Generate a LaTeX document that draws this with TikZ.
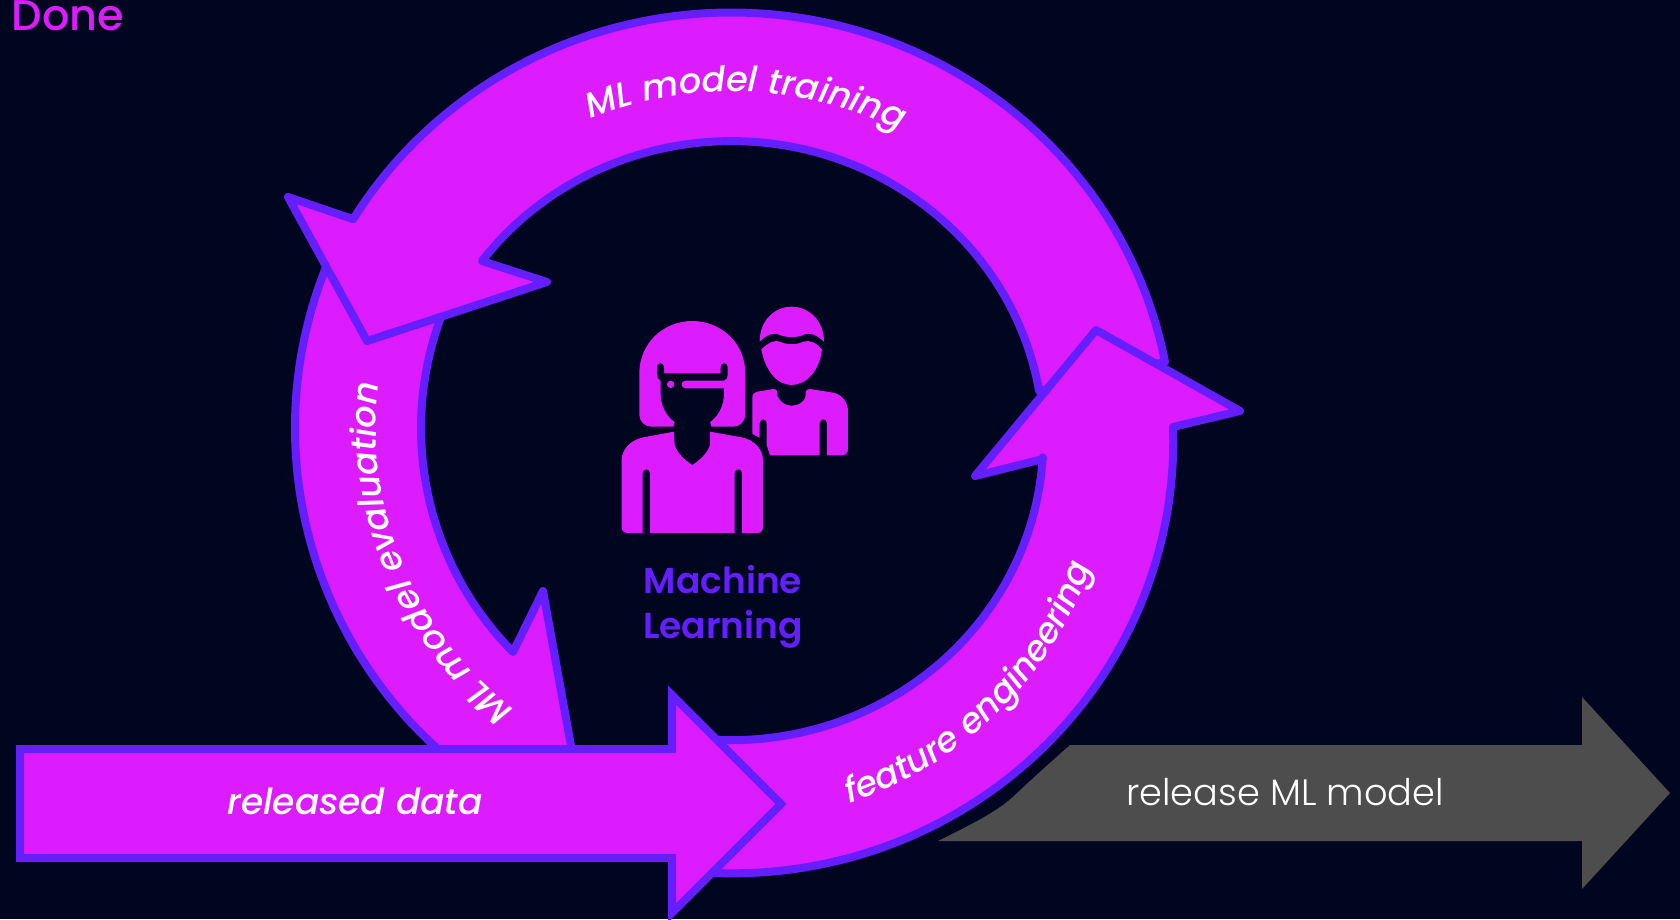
\documentclass[tikz,border=0pt]{standalone}
\usepackage{fontspec}
\usetikzlibrary{decorations.text}
\setmainfont{Poppins}
\newfontfamily\lightfont{Poppins Light}
\newfontfamily\mediumfont{Poppins Medium}
\newfontfamily\semifont{Poppins SemiBold}
\definecolor{page_bg}{HTML}{000520}
\definecolor{ring_fill}{HTML}{DC1CFF}
\definecolor{ring_line}{HTML}{651FFF}
\definecolor{release_gray}{HTML}{4D4D4D}
\tikzset{
  ring_seg/.style={fill=ring_fill,draw=ring_line,line width=8pt,line join=round},
  icon_part/.style={fill=ring_fill,draw=none},
  ring_text/.style={decorate}
}
\newcommand{\ringfont}{\mediumfont\itshape\fontsize{35}{40}\selectfont\color{white}}
\newcommand{\datafont}{\mediumfont\itshape\fontsize{36}{40}\selectfont\color{white}}
\begin{document}
\begin{tikzpicture}[x=1pt,y=-1pt,inner sep=0pt,outer sep=0pt]
  \path[use as bounding box,fill=page_bg] (0,0) rectangle (1680,919);
  % release arrow
  \path[fill=release_gray] (1070,745) -- (1582,745) -- (1582,697) -- (1670,793) -- (1582,889) -- (1582,841) -- (938,841)
    .. controls (985,818) and (1003,807) .. (1017,793) .. controls (1033,778) and (1052,761) .. (1070,745) -- cycle;
  \node[anchor=base,text=white,font=\lightfont\fontsize{36.7}{44}\selectfont] (release_label) at (1285,805) {release ML model};
  % ring, drawn back to front
  \draw[ring_seg] (326.5,266) arc[start angle=201.9,end angle=125,x radius=436,y radius=434]
    -- (579,790) -- (543,591) -- (513,652)
    arc[start angle=134.7,end angle=200.5,x radius=310,y radius=315] -- cycle;
  \draw[ring_seg] (1165,362) arc[start angle=-10.8,end angle=-148.7,x radius=442,y radius=430]
    -- (288,197) -- (367,341) -- (547,282) -- (482,261)
    arc[start angle=-143.1,end angle=-9.6,x radius=312,y radius=300] -- cycle;
  \draw[ring_seg] (975,476) -- (1096,330) -- (1240,411) -- (1173,427)
    arc[start angle=-1.9,end angle=95,x radius=441,y radius=432]
    -- (704,739) arc[start angle=95,end angle=3.3,x radius=312,y radius=300] -- (1043,459) -- cycle;
  % data arrow
  \draw[fill=ring_fill,draw=ring_line,line width=8pt,line join=miter] (20,749) -- (672,749) -- (672,695) -- (781,804) -- (672,913) -- (672,858) -- (20,858) -- cycle;
  \node[anchor=base,font=\datafont] (data_label) at (355,814) {released data};
  % labels on the ring
  \path[ring_text,decoration={text along path,text align=center,text={|\ringfont|ML model training}}]
    (587,120) arc[start angle=-113.3,end angle=-62,x radius=365,y radius=350];
  \path[ring_text,decoration={text along path,text align=center,text={|\ringfont|ML model evaluation}}]
    (510,706) arc[start angle=128.5,end angle=186.4,x radius=355,y radius=355];
  \path[ring_text,decoration={text along path,text align=center,text={|\ringfont|feature engineering}}]
    (845.6,804.4) arc[start angle=72.5,end angle=18.6,x radius=381,y radius=381];
  % icon
  \begin{scope}[shift={(600,290)},x=0.3333pt,y=-0.3333pt]
    \path[icon_part] (118,250) .. controls (118,160) and (190,93) .. (277,93) .. controls (364,93) and (436,160) .. (436,250)
      -- (436,375) .. controls (436,395) and (418,410) .. (400,410) -- (154,410) .. controls (136,410) and (118,395) .. (118,375) -- cycle;
    \path[fill=page_bg] (171,232) .. controls (171,216) and (192,216) .. (192,232) -- (192,250) -- (362,250) -- (362,232)
      .. controls (362,216) and (383,216) .. (383,232) -- (383,252) .. controls (383,264) and (378,270) .. (372,272)
      -- (372,310) .. controls (372,350) and (352,380) .. (330,396) -- (334,412) -- (220,412) -- (224,396)
      .. controls (202,380) and (182,350) .. (182,310) -- (182,272) .. controls (175,268) and (171,262) .. (171,252) -- cycle;
    \path[icon_part] (257,272) -- (374,272) -- (374,295) -- (257,295) .. controls (241,295) and (241,272) .. (257,272) -- cycle;
    \path[icon_part] (212,283) circle[radius=11];
    \path[icon_part] (222,425) -- (130,442) .. controls (90,450) and (65,480) .. (65,510) -- (65,712) .. controls (65,722) and (72,729) .. (82,729)
      -- (128,729) -- (128,550) .. controls (128,534) and (150,534) .. (150,550) -- (150,729) -- (404,729) -- (404,550)
      .. controls (404,534) and (426,534) .. (426,550) -- (426,729) -- (472,729) .. controls (482,729) and (489,722) .. (489,712)
      -- (489,510) .. controls (489,480) and (465,450) .. (425,442) -- (330,425) -- (330,465) .. controls (322,490) and (300,510) .. (277,525)
      .. controls (254,510) and (232,490) .. (224,465) -- cycle;
    \path[icon_part] (479,155) .. controls (479,90) and (525,50) .. (575,50) .. controls (625,50) and (672,90) .. (672,155)
      .. controls (650,135) and (630,125) .. (610,135) .. controls (595,143) and (555,143) .. (540,135) .. controls (520,125) and (500,135) .. (479,155) -- cycle;
    \path[icon_part] (484,178) .. controls (505,158) and (525,148) .. (540,155) .. controls (560,165) and (590,165) .. (610,155)
      .. controls (630,148) and (650,160) .. (666,178) .. controls (660,240) and (620,285) .. (575,285) .. controls (530,285) and (495,240) .. (484,178) -- cycle;
    \path[icon_part] (457,322) .. controls (457,312) and (463,307) .. (472,305) -- (520,297) .. controls (527,296) and (532,300) .. (532,308)
      -- (532,318) .. controls (540,335) and (555,347) .. (575,347) .. controls (595,347) and (615,335) .. (617,318) -- (617,308)
      .. controls (617,300) and (622,296) .. (630,297) -- (700,308) .. controls (730,315) and (744,340) .. (744,365) -- (744,478)
      .. controls (744,490) and (735,496) .. (725,496) -- (681,496) -- (681,400) .. controls (681,384) and (659,384) .. (659,400) -- (659,496)
      -- (510,496) -- (500,465) -- (500,400) .. controls (500,384) and (479,384) .. (479,400) -- (479,443) -- (457,432) -- cycle;
  \end{scope}
  \node[anchor=base,text=ring_line,align=center,font=\semifont\fontsize{36}{45}\selectfont] (ml_label) at (723,638) {Machine\\Learning};
  \node[anchor=base west,text=ring_fill,font=\mediumfont\fontsize{43}{50}\selectfont] (done_label) at (12,30) {Done};
\end{tikzpicture}
\end{document}
